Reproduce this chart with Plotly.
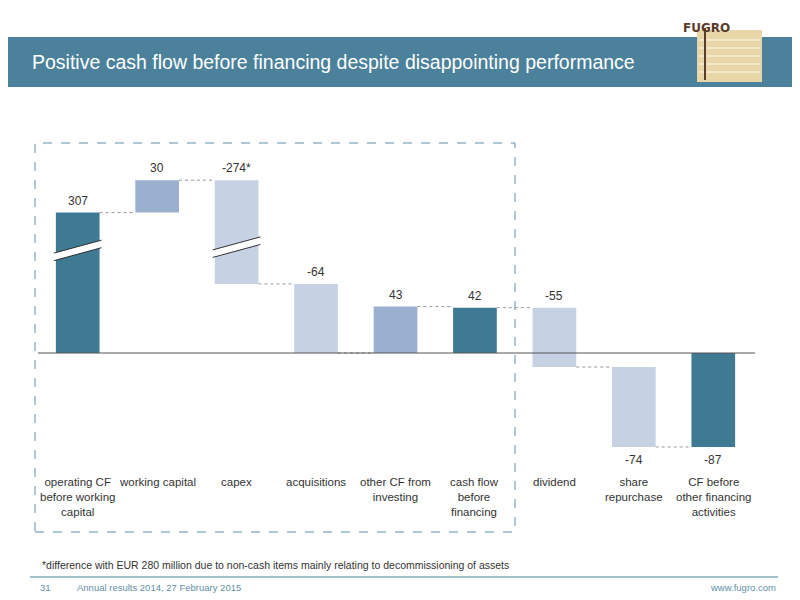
import numpy as np
import plotly.graph_objects as go

categories = ["operating CF<br>before working<br>capital", "working capital", "capex", "acquisitions",
              "other CF from<br>investing", "cash flow<br>before<br>financing", "dividend",
              "share<br>repurchase", "CF before<br>other financing<br>activities"]
labels = ["307", "30", "-274*", "-64", "43", "42", "-55", "-74", "-87"]
# heights as drawn (operating CF and capex are on a broken scale)
shown = [130, 30, -96, -64, 43, 42, -55, -74, -87]
is_total = [False, False, False, False, False, True, False, False, True]
label_above = [True, True, True, True, True, True, True, False, False]
kind = ["dark", "mid", "light", "light", "mid", "dark", "light", "light", "dark"]

colors = {"dark": "#3f7a93", "mid": "#9bb0cf", "light": "#c6d2e4"}

bases, tops = [], []
run = 0
for v, t in zip(shown, is_total):
    if t:
        run = v
        bases.append(0)
        tops.append(v)
    else:
        bases.append(run)
        run += v
        tops.append(run)

x = list(range(len(categories)))
fig = go.Figure(go.Bar(
    x=x, y=[t - b for t, b in zip(tops, bases)], base=bases, width=0.55,
    marker_color=[colors[k] for k in kind], marker_line_width=0, hoverinfo="skip"))

def py(p):
    return (461 - p) / 297

def px(p):
    return (p - 38) / 715

shapes = []
# connectors
for i in range(len(x) - 1):
    level = tops[i]
    shapes.append(dict(type="line", x0=i + 0.275, x1=i + 0.725, y0=level, y1=level,
                       line=dict(color="#999999", width=1, dash="dot")))
# baseline
shapes.append(dict(type="line", xref="paper", x0=0, x1=1.003, y0=0, y1=0, line=dict(color="#555555", width=1)))
# break marks
for i, yb in [(0, 95), (2, 98)]:
    shapes.append(dict(type="line", x0=i - 0.3, x1=i + 0.3, y0=yb - 6, y1=yb + 6, line=dict(color="white", width=7)))
    for off in (-3.5, 3.5):
        shapes.append(dict(type="line", x0=i - 0.3, x1=i + 0.3, y0=yb - 6 + off, y1=yb + 6 + off,
                           line=dict(color="#333333", width=1)))
# header band
shapes.append(dict(type="rect", xref="paper", yref="paper", x0=px(-20), x1=px(820), y0=py(87), y1=py(37),
                   fillcolor="#4b819a", line_width=0, layer="below"))
# logo block
shapes.append(dict(type="rect", xref="paper", yref="paper", x0=px(697), x1=px(762), y0=py(82), y1=py(30),
                   fillcolor="#e8d5a8", line_width=0))
for k in range(5):
    yy = 40 + k * 8
    shapes.append(dict(type="line", xref="paper", yref="paper", x0=px(699), x1=px(760), y0=py(yy), y1=py(yy),
                       line=dict(color="#f6ecd4", width=1.5)))
shapes.append(dict(type="line", xref="paper", yref="paper", x0=px(705), x1=px(705), y0=py(28), y1=py(80),
                   line=dict(color="#5a3a2a", width=2)))
# dashed box
shapes.append(dict(type="rect", xref="paper", yref="paper", x0=px(35), x1=px(515), y0=py(532), y1=py(143),
                   line=dict(color="#5f8fa8", width=1, dash="dash")))
# footer line
shapes.append(dict(type="line", xref="paper", yref="paper", x0=px(30), x1=px(778), y0=py(577), y1=py(577),
                   line=dict(color="#4b819a", width=1)))

ann = []
for i, lab in enumerate(labels):
    above = label_above[i]
    ytop = max(tops[i], bases[i])
    ybot = min(tops[i], bases[i])
    ann.append(dict(x=i, y=ytop if above else ybot, text=lab, showarrow=False,
                    yanchor="bottom" if above else "top", yshift=3 if above else -4,
                    font=dict(size=12, color="#333333")))
for i, c in enumerate(categories):
    ann.append(dict(x=i, y=py(474), yref="paper", text=c, showarrow=False, yanchor="top",
                    font=dict(size=11.5, color="#333333")))
ann += [
    dict(x=px(30), y=py(49), xref="paper", yref="paper", xanchor="left", text="Positive cash flow before financing despite disappointing performance",
         showarrow=False, font=dict(size=19.5, color="white")),
    dict(x=px(732), y=py(19), xref="paper", yref="paper", text="<b>FUGRO</b>", showarrow=False,
         font=dict(size=12, color="#5a3a2a", family="DejaVu Sans")),
    dict(x=px(40), y=py(573), xref="paper", yref="paper", xanchor="left", text="*difference with EUR 280 million due to non-cash items mainly relating to decommissioning of assets",
         showarrow=False, font=dict(size=10.5, color="#333333")),
    dict(x=px(38), y=py(595), xref="paper", yref="paper", xanchor="left", text="31", showarrow=False, font=dict(size=9.5, color="#5f8fa8")),
    dict(x=px(75), y=py(595), xref="paper", yref="paper", xanchor="left", text="Annual results 2014, 27 February 2015", showarrow=False, font=dict(size=9.5, color="#5f8fa8")),
    dict(x=px(778), y=py(595), xref="paper", yref="paper", xanchor="right", text="www.fugro.com", showarrow=False, font=dict(size=9.5, color="#5f8fa8")),
]

fig.update_layout(
    width=792, height=592, margin=dict(l=30, r=47, t=156, b=139),
    paper_bgcolor="white", plot_bgcolor="white", showlegend=False,
    font=dict(family="Liberation Sans, Arial, sans-serif"),
    xaxis=dict(range=[-0.5, 8.5], visible=False),
    yaxis=dict(range=[-100, 175], visible=False),
    shapes=shapes, annotations=ann,
)
fig.write_html("out.html")
